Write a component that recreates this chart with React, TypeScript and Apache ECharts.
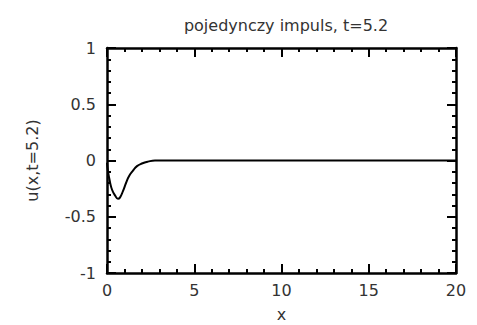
import React, { useEffect, useRef } from "react";
import * as echarts from "echarts";

const titleText = "pojedynczy impuls, t=5.2";
const xName = "x";
const yName = "u(x,t=5.2)";
const xValues = [0, 0.06, 0.17, 0.29, 0.46, 0.63, 0.74, 0.92, 1.09, 1.26, 1.49, 1.72, 2.0, 2.35, 2.75, 3, 20];
const uValues = [-0.02, -0.1, -0.19, -0.26, -0.31, -0.34, -0.33, -0.27, -0.2, -0.14, -0.09, -0.05, -0.027, -0.01, 0, 0, 0];

export default function App() {
  const ref = useRef<HTMLDivElement>(null);
  useEffect(() => {
    const chart = echarts.init(ref.current!, null, { renderer: "svg" });
    const font = "DejaVu Sans";
    const color = "#333";
    const tickCommon = {
      axisLine: { show: true, onZero: false, lineStyle: { color: "#000", width: 2.5 } },
      axisTick: { show: true, inside: true, length: 9, lineStyle: { color: "#000", width: 2 } },
      minorTick: { show: true, splitNumber: 5, length: 4, lineStyle: { color: "#000", width: 2 } },
      splitLine: { show: false },
    };
    chart.setOption({
      animation: false,
      title: {
        text: titleText,
        left: 281,
        top: 12,
        textAlign: "center",
        textStyle: { fontFamily: font, fontSize: 16, fontWeight: "normal", color },
      },
      grid: { left: 107, right: 21, top: 48, bottom: 52, outerBoundsMode: "none", containLabel: false },
      xAxis: [
        {
          type: "value",
          min: 0,
          max: 20,
          interval: 5,
          position: "bottom",
          name: xName,
          nameLocation: "middle",
          nameGap: 33,
          nameTextStyle: { fontFamily: font, fontSize: 16, color },
          axisLabel: { fontFamily: font, fontSize: 16, color, margin: 9 },
          ...tickCommon,
        },
        {
          type: "value",
          min: 0,
          max: 20,
          interval: 5,
          position: "top",
          axisLabel: { show: false },
          ...tickCommon,
        },
      ],
      yAxis: [
        {
          type: "value",
          min: -1,
          max: 1,
          interval: 0.5,
          position: "left",
          name: yName,
          nameLocation: "middle",
          nameGap: 67,
          nameTextStyle: { fontFamily: font, fontSize: 16, color },
          axisLabel: { fontFamily: font, fontSize: 16, color, margin: 11 },
          ...tickCommon,
        },
        {
          type: "value",
          min: -1,
          max: 1,
          interval: 0.5,
          position: "right",
          axisLabel: { show: false },
          ...tickCommon,
        },
      ],
      series: [
        {
          type: "line",
          data: xValues.map((x, i) => [x, uValues[i]]),
          showSymbol: false,
          smooth: true,
          lineStyle: { color: "#000", width: 2 },
        },
      ],
    });
    return () => chart.dispose();
  }, []);
  return <div ref={ref} style={{ position: "absolute", left: 0, top: 0, width: 477, height: 325 }} />;
}
